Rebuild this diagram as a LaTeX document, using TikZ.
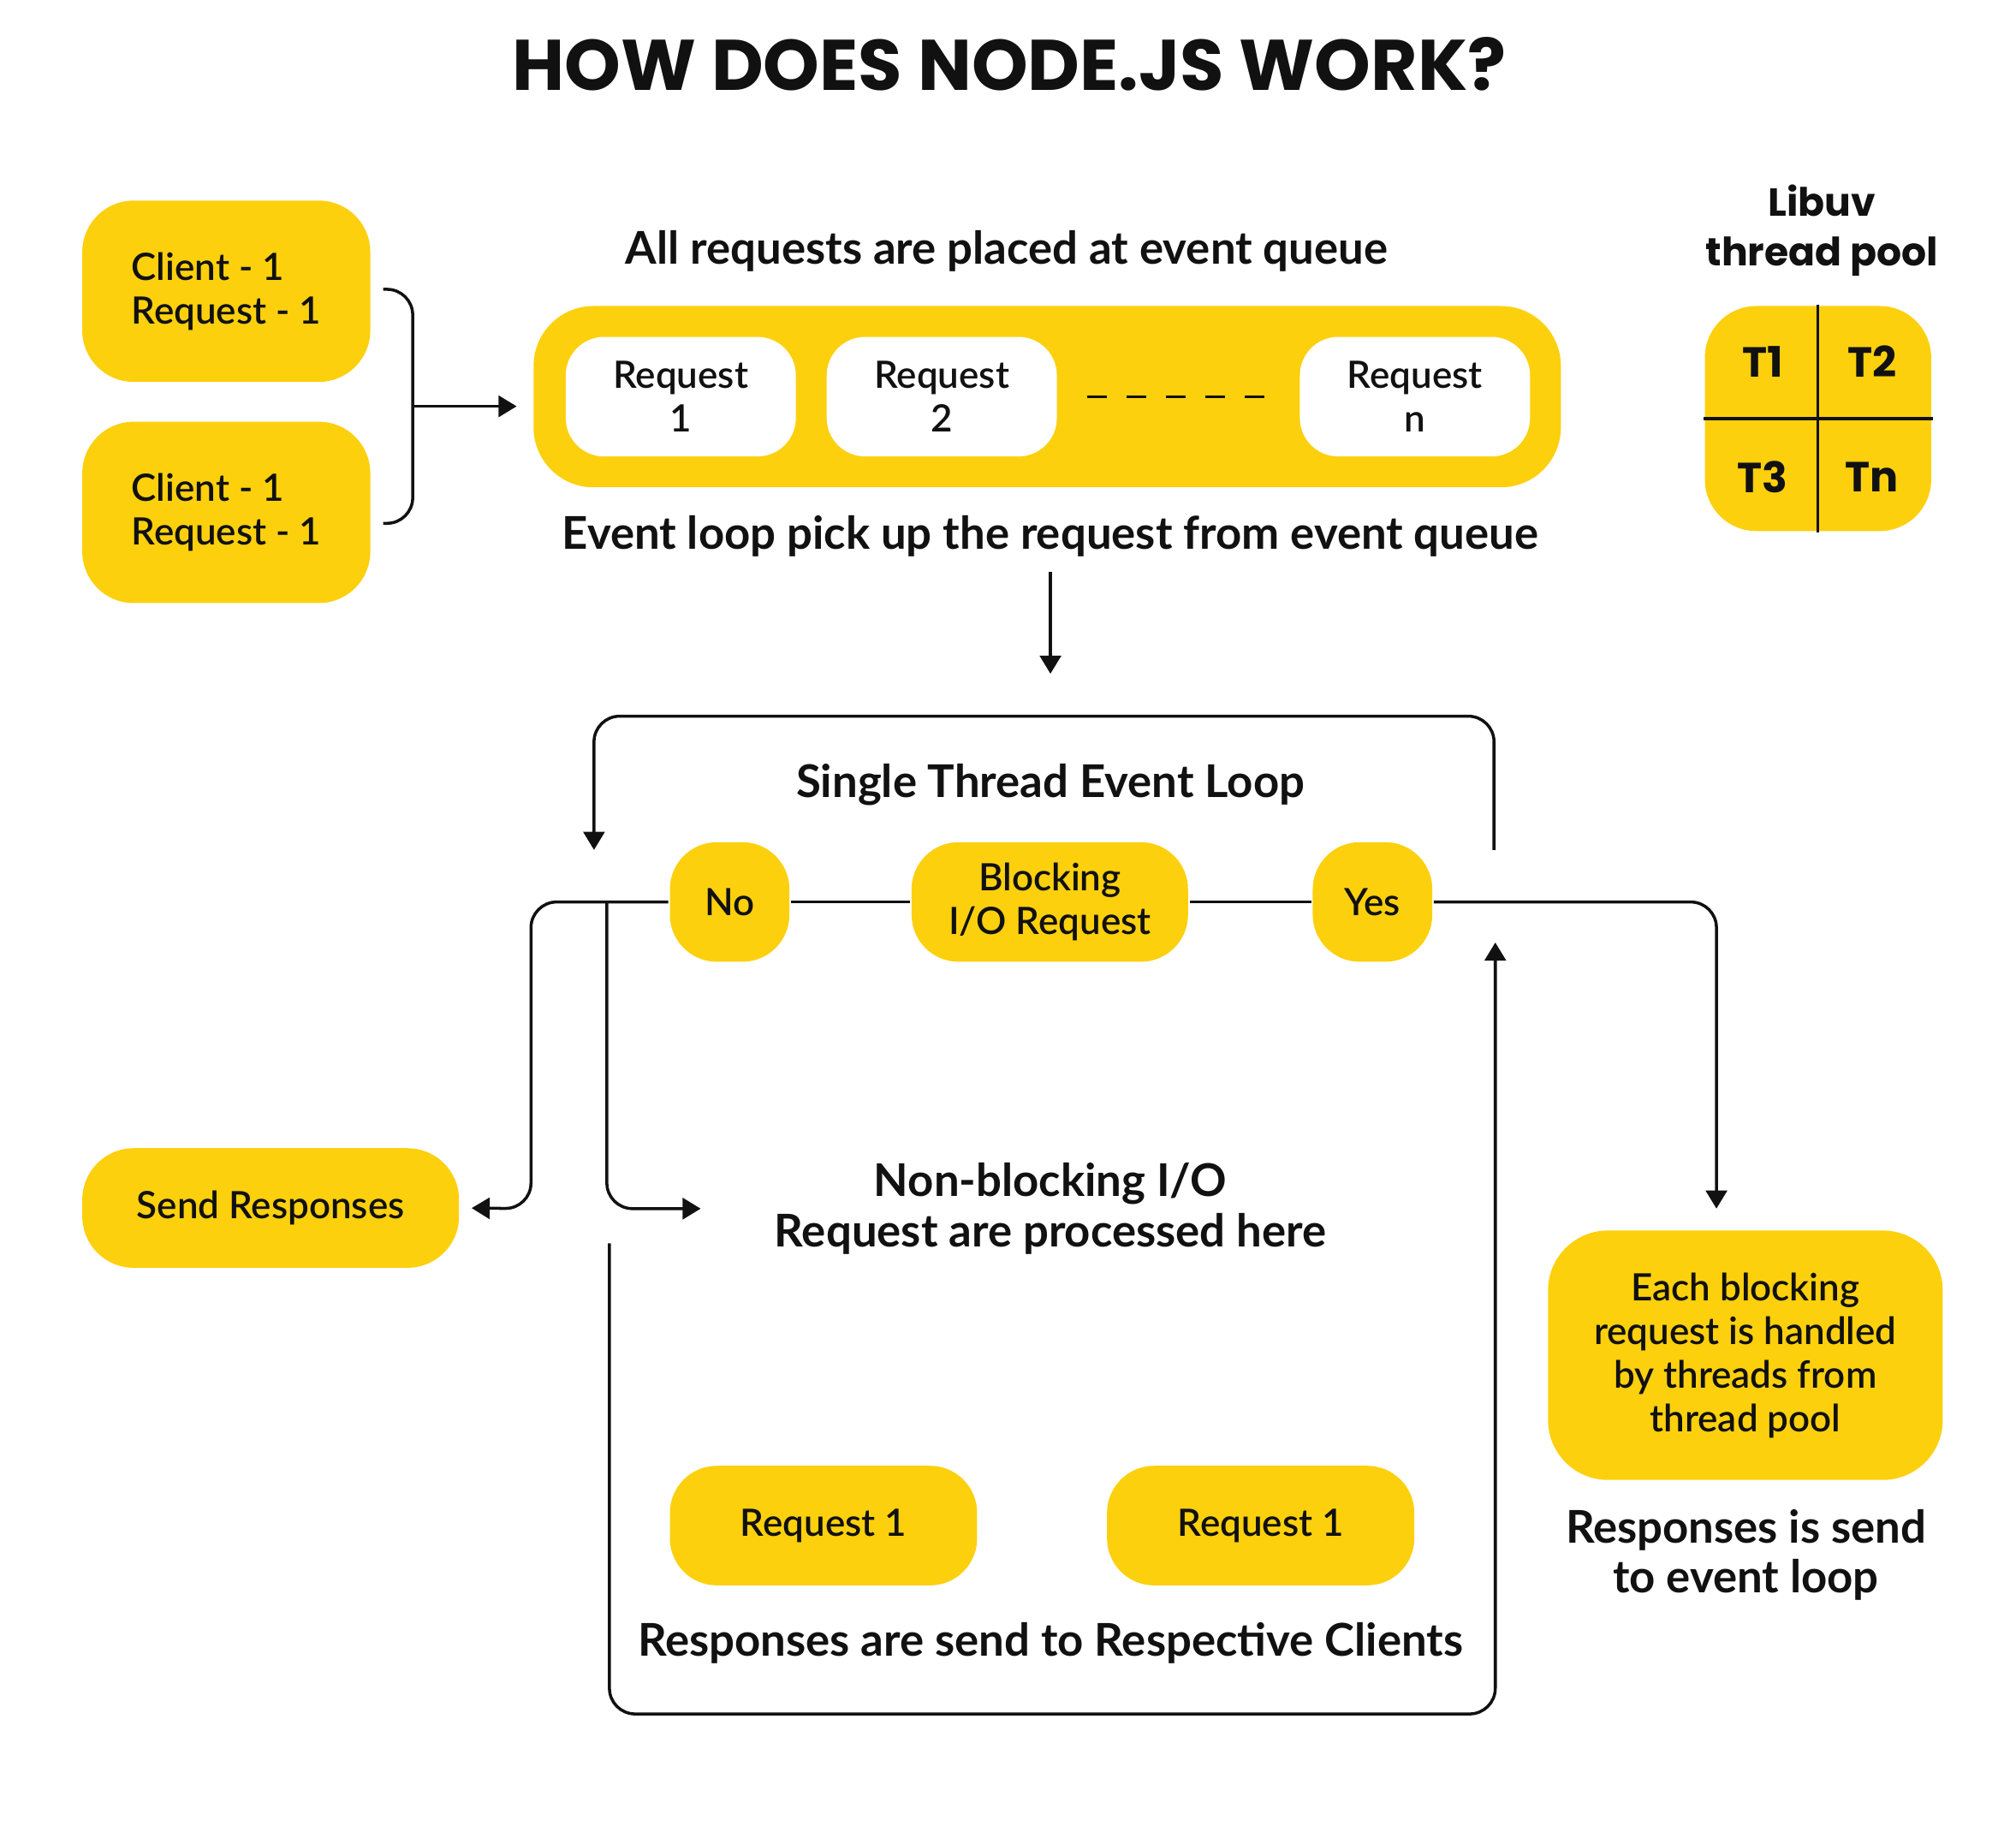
\documentclass[tikz,border=0pt]{standalone}
\usepackage{fontspec}
\setmainfont{Lato}
\newfontfamily\headfont{Poppins}
\newfontfamily\boxfont{Lato Semibold}
\usetikzlibrary{arrows.meta}

\definecolor{nodeyellow}{RGB}{253,208,14}
\definecolor{ink}{RGB}{17,17,17}
\newcommand{\upx}{0.1502mm}

\begin{document}
\begin{tikzpicture}[
			x=\upx, y=-\upx,
			line width=1pt, draw=ink, text=ink,
			arr/.style = {-{Triangle[length=6pt,width=7pt]}},
			card/.style = {fill=nodeyellow, rounded corners=6mm, inner sep=0pt, align=left,
				font=\boxfont\fontsize{12.5}{14.5}\selectfont},
			pill/.style = {fill=nodeyellow, rounded corners=5.5mm, inner sep=0pt, align=center,
				minimum height=93*\upx, font=\boxfont\fontsize{12.5}{14.5}\selectfont},
			slot/.style = {fill=white, rounded corners=4.5mm, inner sep=0pt, align=center,
				minimum width=179*\upx, minimum height=93*\upx, font=\boxfont\fontsize{12.5}{14.5}\selectfont},
			lbl/.style = {align=center, inner sep=1pt, font=\bfseries\fontsize{15}{16.5}\selectfont},
			tcell/.style = {font=\headfont\bfseries\fontsize{14}{16}\selectfont}
		]
		\useasboundingbox (0,0) rectangle (1568,1434);

		\node[font=\headfont\bfseries\fontsize{23.8}{28}\selectfont] (title) at (785,50) {HOW DOES NODE.JS WORK?};

		% clients
		\node[card, minimum width=224*\upx, minimum height=141*\upx] (client1) at (176,226.5) {Client - 1\\Request - 1};
		\node[card, minimum width=224*\upx, minimum height=141*\upx] (client2) at (176,398.5) {Client - 1\\Request - 1};
		\coordinate (b1) at (298,225);
		\coordinate (b2) at (298,407);
		\coordinate (bm) at (321,316);
		\draw[rounded corners=3mm] (b1) -| (bm) |- (b2);

		% event queue
		\node[lbl] (placed) at (783,195) {All requests are placed at event queue};
		\node[fill=nodeyellow, rounded corners=7mm, minimum width=799*\upx, minimum height=141*\upx] (queue) at (814.5,308.5) {};
		\node[slot] (slot1) at (529.5,308.5) {Request\\1};
		\node[slot] (slot2) at (732.5,308.5) {Request\\2};
		\node[slot] (slotn) at (1100.5,308.5) {Request\\n};
		\draw[dash pattern=on 2.3mm off 2.3mm, shorten <=3.4mm, shorten >=2.4mm] (slot2.east) -- (slotn.west);
		\draw[arr, shorten >=1.8mm] (bm) -- (bm -| queue.west);
		\node[lbl] (pick) at (817,417) {Event loop pick up the request from event queue};
		\coordinate (loopin) at (817,524);
		\draw[arr, shorten <=1.2mm] (pick.south) -- (loopin);

		% thread pool
		\node[lbl, font=\headfont\bfseries\fontsize{13}{16.5}\selectfont] (libuv) at (1417,179) {Libuv\\thread pool};
		\node[fill=nodeyellow, rounded corners=6mm, minimum width=176*\upx, minimum height=175*\upx] (pool) at (1414,325.5) {};
		\draw (pool.north) -- (pool.south);
		\draw (pool.west) -- (pool.east);
		\node[tcell] (t1) at (1371,281) {T1};
		\node[tcell] (t2) at (1456,281) {T2};
		\node[tcell] (t3) at (1371,371) {T3};
		\node[tcell] (tn) at (1456,371) {Tn};

		% event loop
		\node[lbl] (single) at (817,610) {Single Thread Event Loop};
		\coordinate (loopR) at (1162,661);
		\coordinate (loopL) at (462,661);
		\draw[arr, rounded corners=3mm] (loopR) |- (462,557) -- (loopL);
		\node[pill, minimum width=93*\upx] (no) at (567.5,701.5) {No};
		\node[pill, minimum width=215*\upx] (block) at (816.5,701.5) {Blocking\\I/O Request};
		\node[pill, minimum width=93*\upx] (yes) at (1067.5,701.5) {Yes};
		\draw (no) -- (block);
		\draw (block) -- (yes);

		\node[card, align=center, minimum width=293*\upx, minimum height=93*\upx] (send) at (210.5,939.5) {Send Responses};
		\draw[arr, rounded corners=3mm, shorten >=1.3mm] (no.west) -| (413,940) -- (send.east);
		\coordinate (split) at (472,701);
		\coordinate (nbtip) at (545,940);
		\draw[arr, rounded corners=3mm] (split) |- (nbtip);
		\node[lbl, font=\bfseries\fontsize{15}{16.6}\selectfont] (nonblock) at (817,940) {Non-blocking I/O\\Request are processed here};

		\node[pill, minimum width=239*\upx] (req1) at (640.5,1186.5) {Request 1};
		\node[pill, minimum width=239*\upx] (req2) at (980.5,1186.5) {Request 1};
		\node[lbl] (respond) at (817,1278) {Responses are send to Respective Clients};
		\coordinate (retstart) at (474,967);
		\coordinate (rettip) at (1163,733);
		\draw[arr, rounded corners=3mm] (retstart) |- (1163,1333) -- (rettip);

		% blocking side
		\coordinate (poolin) at (1335,940);
		\draw[arr, rounded corners=3mm] (yes.east) -| (poolin);
		\node[card, align=center, rounded corners=7mm, minimum width=307*\upx, minimum height=194*\upx] (each) at (1357.5,1054) {Each blocking\\request is handled\\by threads from\\thread pool};
		\node[lbl, font=\bfseries\fontsize{15}{16.5}\selectfont] (sendback) at (1358,1209) {Responses is send\\to event loop};
	\end{tikzpicture}
\end{document}
